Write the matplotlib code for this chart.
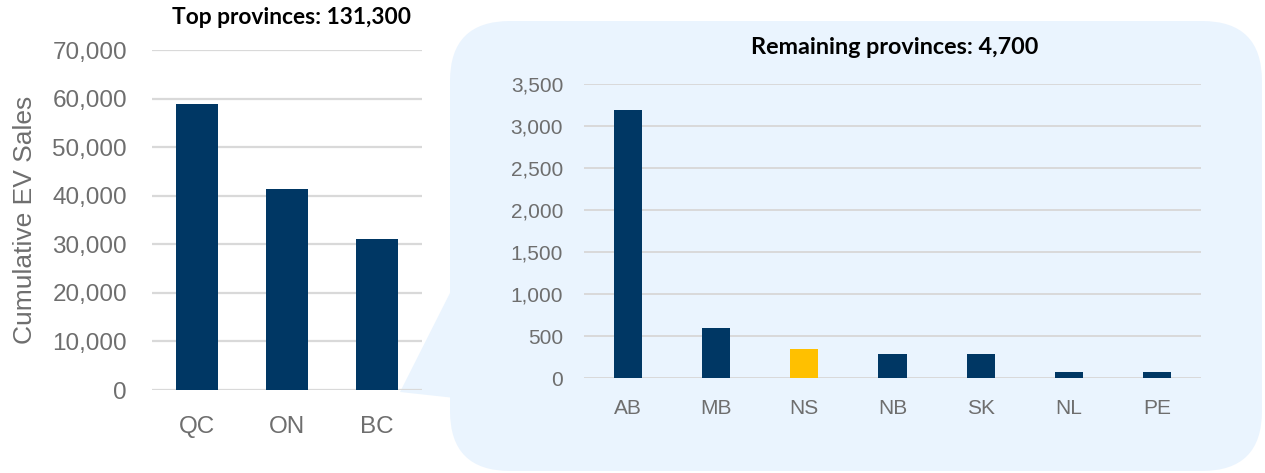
import matplotlib.pyplot as plt
from matplotlib.patches import FancyBboxPatch, Polygon
from matplotlib.ticker import FuncFormatter, MultipleLocator
from matplotlib.transforms import IdentityTransform

plt.rcParams['font.family'] = ['Liberation Sans', 'DejaVu Sans']

top_provinces = ['QC', 'ON', 'BC']
top_sales = [58900, 41300, 31100]

rest_provinces = ['AB', 'MB', 'NS', 'NB', 'SK', 'NL', 'PE']
rest_sales = [3190, 595, 345, 290, 290, 70, 70]
highlight = 'NS'

NAVY = '#003764'
GOLD = '#FFC000'
BUBBLE = '#EAF4FE'
GRID = '#D9D9D9'
TICK = '#6E6E6E'

W, H = 1265, 473
fig = plt.figure(figsize=(W / 100, H / 100), dpi=100)
fig.patch.set_facecolor('white')


def px(x0, y_top, x1, y_bot):
    # image pixel box -> figure fraction rect
    return [x0 / W, 1 - y_bot / H, (x1 - x0) / W, (y_bot - y_top) / H]


# callout bubble behind the right chart
bubble = FancyBboxPatch((450, H - 471), 812, 450,
                        boxstyle='round,pad=0,rounding_size=60',
                        transform=IdentityTransform(), facecolor=BUBBLE,
                        edgecolor='none', zorder=0)
fig.add_artist(bubble)
wedge = Polygon([(400, H - 392), (455, H - 283), (455, H - 398)],
                closed=True, transform=IdentityTransform(),
                facecolor=BUBBLE, edgecolor='none', zorder=0)
fig.add_artist(wedge)

comma = FuncFormatter(lambda v, p: f'{int(v):,}')

# left chart
ax1 = fig.add_axes(px(152, 50, 422, 390))
ax1.bar(range(len(top_provinces)), top_sales, width=0.46, color=NAVY,
        zorder=3)
ax1.set_xlim(-0.5, len(top_provinces) - 0.5)
ax1.set_ylim(0, 70000)
ax1.yaxis.set_major_locator(MultipleLocator(10000))
ax1.yaxis.set_major_formatter(comma)
ax1.set_xticks(range(len(top_provinces)))
ax1.set_xticklabels(top_provinces)
ax1.grid(axis='y', color=GRID, linewidth=1.6, zorder=0)
ax1.tick_params(axis='y', length=0, pad=18, labelsize=17.5, labelcolor=TICK)
ax1.tick_params(axis='x', length=0, pad=19, labelsize=17.5, labelcolor=TICK)
ax1.set_ylabel('Cumulative EV Sales', fontsize=19, color=TICK, labelpad=11)
ax1.patch.set_alpha(0)
for s in ax1.spines.values():
    s.set_visible(False)

# right chart
ax2 = fig.add_axes(px(584, 84.3, 1201, 378.3))
colors = [GOLD if p == highlight else NAVY for p in rest_provinces]
ax2.bar(range(len(rest_provinces)), rest_sales, width=0.32, color=colors,
        zorder=3)
ax2.set_xlim(-0.5, len(rest_provinces) - 0.5)
ax2.set_ylim(0, 3500)
ax2.yaxis.set_major_locator(MultipleLocator(500))
ax2.yaxis.set_major_formatter(comma)
ax2.set_xticks(range(len(rest_provinces)))
ax2.set_xticklabels(rest_provinces)
ax2.grid(axis='y', color=GRID, linewidth=1.4, zorder=0)
ax2.tick_params(axis='y', length=0, pad=15, labelsize=15, labelcolor=TICK)
ax2.tick_params(axis='x', length=0, pad=15, labelsize=15, labelcolor=TICK)
ax2.patch.set_alpha(0)
for s in ax2.spines.values():
    s.set_visible(False)

fig.text(291 / W, 1 - 17 / H, 'Top provinces: 131,300', ha='center',
         va='center', fontsize=16.4, fontweight='bold', family='Lato')
fig.text(895 / W, 1 - 47 / H, 'Remaining provinces: 4,700', ha='center',
         va='center', fontsize=16.8, fontweight='bold', family='Lato')

fig.savefig('out.png', dpi=100)
